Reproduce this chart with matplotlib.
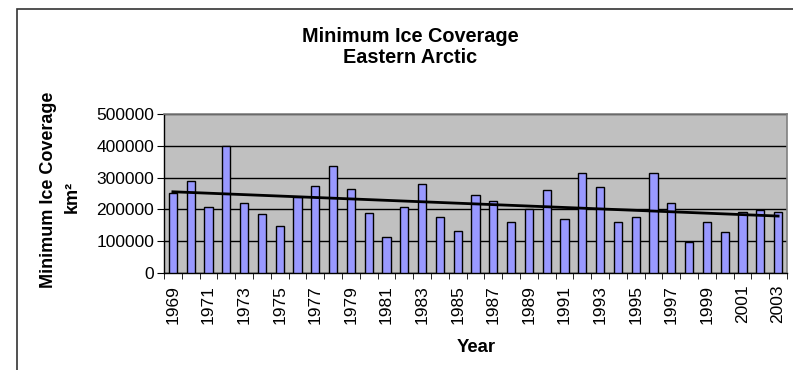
import numpy as np
import matplotlib.pyplot as plt
from matplotlib.patches import Rectangle

years = list(range(1969, 2004))
coverage = [253000, 290000, 209000, 400000, 220000, 185000, 148000, 238000,
            273000, 337000, 265000, 188000, 113000, 209000, 280000, 177000,
            133000, 245000, 226000, 161000, 201000, 262000, 169000, 313000,
            269000, 161000, 177000, 313000, 220000, 97000, 161000, 129000,
            192000, 198000, 192000]
yticks = [0, 100000, 200000, 300000, 400000, 500000]

plt.rcParams['font.family'] = ['Liberation Sans', 'DejaVu Sans']

fig = plt.figure(figsize=(7.93, 3.70), dpi=100)
W, H = 793, 370
ax = fig.add_axes([164 / W, 1 - 273 / H, (787 - 164) / W, (273 - 114) / H])

# chart area frame (cut off at right and bottom like the reference)
fig.patches.append(Rectangle((17 / W, -0.05), 1.0, 1 - 9 / H + 0.05,
                             transform=fig.transFigure, fill=False,
                             edgecolor='#333333', linewidth=1.2))

x = np.arange(len(years))
ax.set_facecolor('#C0C0C0')
ax.bar(x, coverage, width=0.45, color='#9999FF', edgecolor='black', linewidth=1.0, zorder=3)

# linear trendline
k, b = np.polyfit(x, coverage, 1)
ax.plot(x, k * x + b, color='black', linewidth=2.0, zorder=4)

ax.set_xlim(-0.5, len(years) - 0.5)
ax.set_ylim(0, 500000)
ax.set_yticks(yticks)
ax.set_yticklabels([str(v) for v in yticks], fontsize=12.5)
ax.yaxis.grid(True, color='black', linewidth=1.0, zorder=1)
ax.set_axisbelow(True)

ax.set_xticks(x[::2])
ax.set_xticklabels([str(y) for y in years[::2]], rotation=90, fontsize=12.5)
ax.set_xticks(np.arange(-0.5, len(years)), minor=True)
ax.tick_params(axis='x', which='major', length=0, pad=8.5)
ax.tick_params(axis='x', which='minor', length=4, direction='out', color='black')
ax.tick_params(axis='y', length=5, direction='out', color='black', pad=2)

for s in ['top', 'right']:
    ax.spines[s].set_color('#808080')
    ax.spines[s].set_linewidth(1.2)
for s in ['left', 'bottom']:
    ax.spines[s].set_color('black')
    ax.spines[s].set_linewidth(1.0)

fig.text(410 / W, 1 - 42 / H, 'Minimum Ice Coverage', ha='center', va='baseline',
         fontsize=14.3, fontweight='bold')
fig.text(410 / W, 1 - 63 / H, 'Eastern Arctic', ha='center', va='baseline',
         fontsize=14.3, fontweight='bold')
fig.text(49 / W, 1 - 190 / H, 'Minimum Ice Coverage', rotation=90, ha='center', va='center',
         fontsize=13, fontweight='bold')
fig.text(72 / W, 1 - 197 / H, 'km²', rotation=90, ha='center', va='center',
         fontsize=13, fontweight='bold')
fig.text(476 / W, 1 - 351.7 / H, 'Year', ha='center', va='baseline',
         fontsize=13.3, fontweight='bold')

fig.savefig('out.png', dpi=100)
